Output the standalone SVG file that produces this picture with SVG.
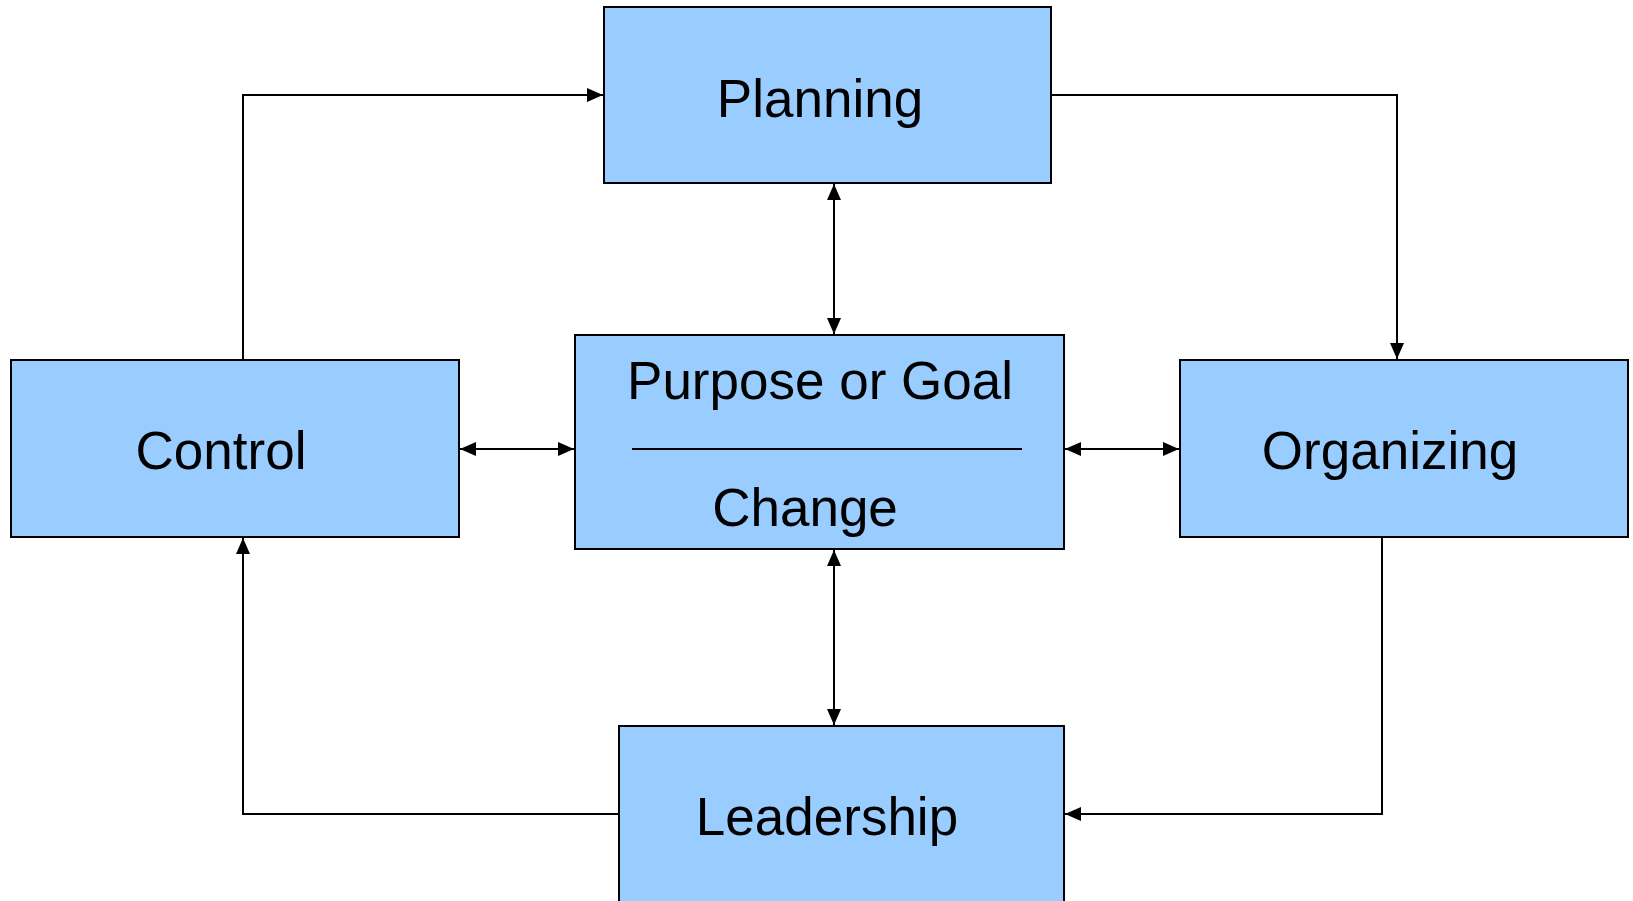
<svg xmlns="http://www.w3.org/2000/svg" width="1633" height="901" viewBox="0 0 1633 901">
<style>
.box{fill:#99ccff;stroke:#000;stroke-width:2}
.lbl{font-family:"Liberation Sans",Arial,sans-serif;font-size:53px;fill:#000;text-anchor:middle}
.c{fill:none;stroke:#000;stroke-width:2}
</style>
<defs>
<marker id="ah" viewBox="0 0 16 14" refX="16" refY="7" markerWidth="16" markerHeight="14" markerUnits="userSpaceOnUse" orient="auto-start-reverse">
<path d="M0,0 L16,7 L0,14 Z" fill="#000"/>
</marker>
</defs>
<rect width="1633" height="901" fill="#fff"/>
<g id="connectors">
<polyline class="c" points="243,360 243,95 603,95" marker-end="url(#ah)"/>
<polyline class="c" points="1051,95 1397,95 1397,359" marker-end="url(#ah)"/>
<polyline class="c" points="1382,537 1382,814 1065,814" marker-end="url(#ah)"/>
<polyline class="c" points="619,814 243,814 243,538" marker-end="url(#ah)"/>
<line class="c" x1="834" y1="184" x2="834" y2="334" marker-start="url(#ah)" marker-end="url(#ah)"/>
<line class="c" x1="834" y1="550" x2="834" y2="725" marker-start="url(#ah)" marker-end="url(#ah)"/>
<line class="c" x1="460" y1="449" x2="574" y2="449" marker-start="url(#ah)" marker-end="url(#ah)"/>
<line class="c" x1="1065" y1="449" x2="1179" y2="449" marker-start="url(#ah)" marker-end="url(#ah)"/>
</g>
<g id="planning">
<rect class="box" x="604" y="7" width="447" height="176"/>
<text class="lbl" x="820" y="117">Planning</text>
</g>
<g id="control">
<rect class="box" x="11" y="360" width="448" height="177"/>
<text class="lbl" x="221" y="469">Control</text>
</g>
<g id="purpose">
<rect class="box" x="575" y="335" width="489" height="214"/>
<text class="lbl" x="820" y="399">Purpose or Goal</text>
<line x1="632" y1="449" x2="1022" y2="449" stroke="#000" stroke-width="2"/>
<text class="lbl" x="805" y="526">Change</text>
</g>
<g id="organizing">
<rect class="box" x="1180" y="360" width="448" height="177"/>
<text class="lbl" x="1390" y="469">Organizing</text>
</g>
<g id="leadership">
<rect class="box" x="619" y="726" width="445" height="190"/>
<text class="lbl" x="827" y="835">Leadership</text>
</g>
</svg>
